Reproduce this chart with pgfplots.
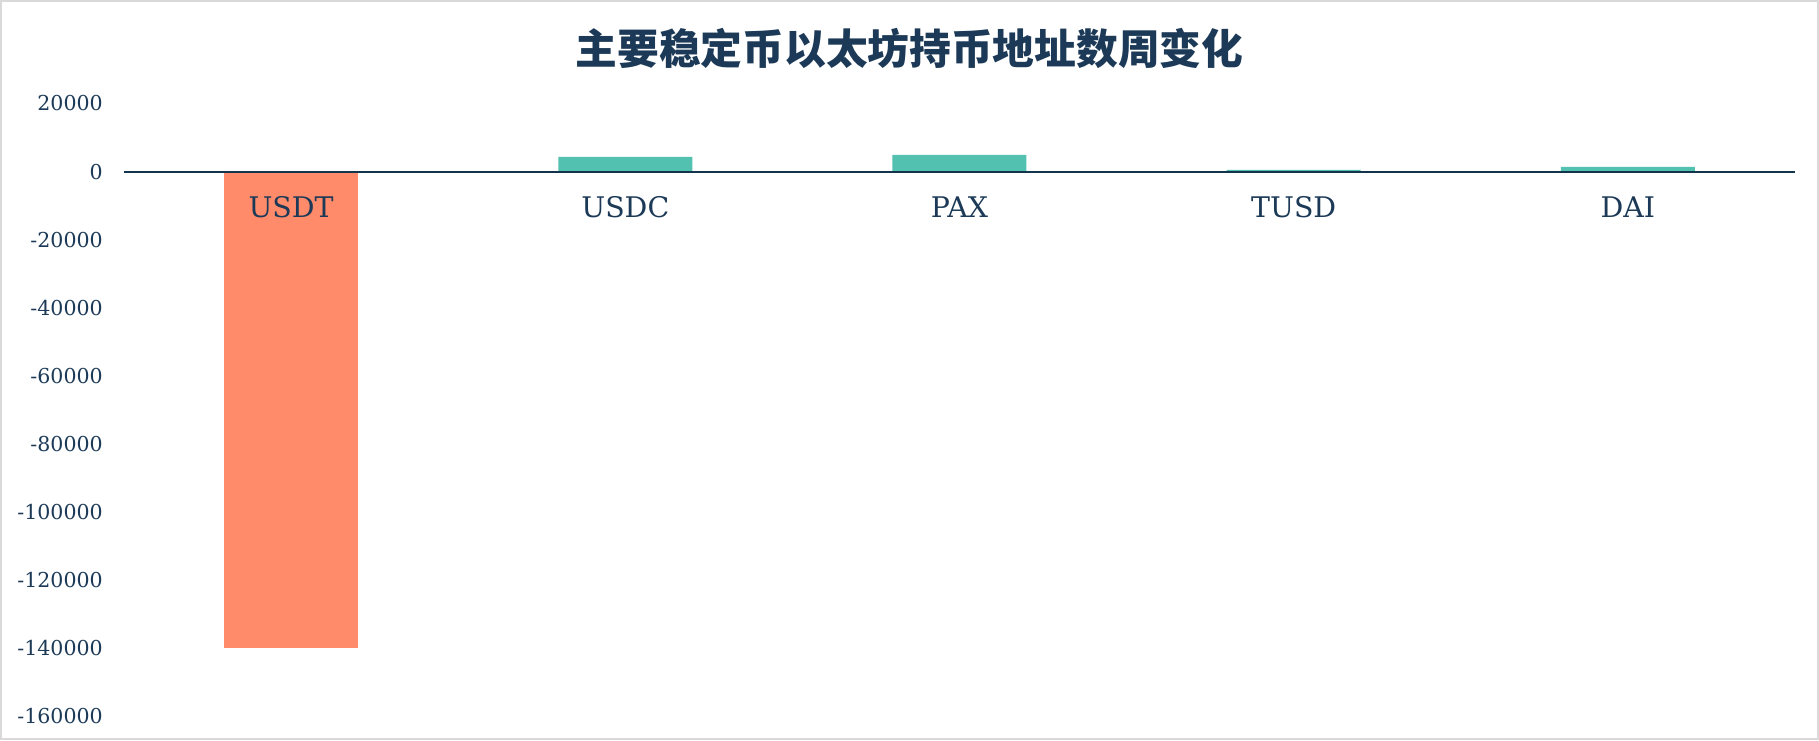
\documentclass[border=0pt]{standalone}
\usepackage{fontspec}
\setmainfont{DejaVu Serif}
\newfontfamily\cjk{Noto Sans CJK SC}
\usepackage{pgfplots}
\pgfplotsset{compat=1.18}
\definecolor{navytext}{HTML}{1C3A57}
\definecolor{zeroline}{HTML}{12344D}
\definecolor{barorange}{HTML}{FF8B6A}
\definecolor{barteal}{HTML}{52C1AF}
\definecolor{frame}{HTML}{D9D9D9}
\begin{document}
\begin{tikzpicture}
% canvas, 1px = 0.75pt
\draw[frame, fill=white, line width=1.5pt] (0.75pt,0.75pt) rectangle (1363.5pt,554.25pt);
\node[text=navytext, font=\cjk\bfseries\fontsize{31.3}{37}\selectfont] at (682.1pt,519pt) {主要稳定币以太坊持币地址数周变化};
\begin{axis}[
    at={(93pt,17.7pt)}, anchor=south west,
    scale only axis, width=1253.25pt, height=459.7pt,
    ybar, bar width=100.5pt, bar shift=0pt,
    xmin=-0.5, xmax=4.5, ymin=-160000, ymax=20000,
    axis x line=middle, axis y line=left,
    axis on top,
    x axis line style={draw=zeroline, line width=1.5pt, -},
    y axis line style={draw=none},
    major tick length=0pt,
    xtick={0,1,2,3,4},
    xticklabels={USDT,USDC,PAX,TUSD,DAI},
    xticklabel style={anchor=base, yshift=-34.2pt, text=navytext, font=\fontsize{21.3}{25}\selectfont},
    ytick={-160000,-140000,-120000,-100000,-80000,-60000,-40000,-20000,0,20000},
    yticklabels={-160000,-140000,-120000,-100000,-80000,-60000,-40000,-20000,0,20000},
    scaled y ticks=false,
    yticklabel style={anchor=east, inner sep=0pt, xshift=-15.75pt, text=navytext,
        font=\fontsize{15.4}{18}\selectfont},
    clip=false,
]
\addplot[fill=barorange, draw=none] coordinates {(0,-140000)};
\addplot[fill=barteal, draw=none] coordinates {(1,4300) (2,4900) (3,500) (4,1400)};
\end{axis}
\end{tikzpicture}
\end{document}
